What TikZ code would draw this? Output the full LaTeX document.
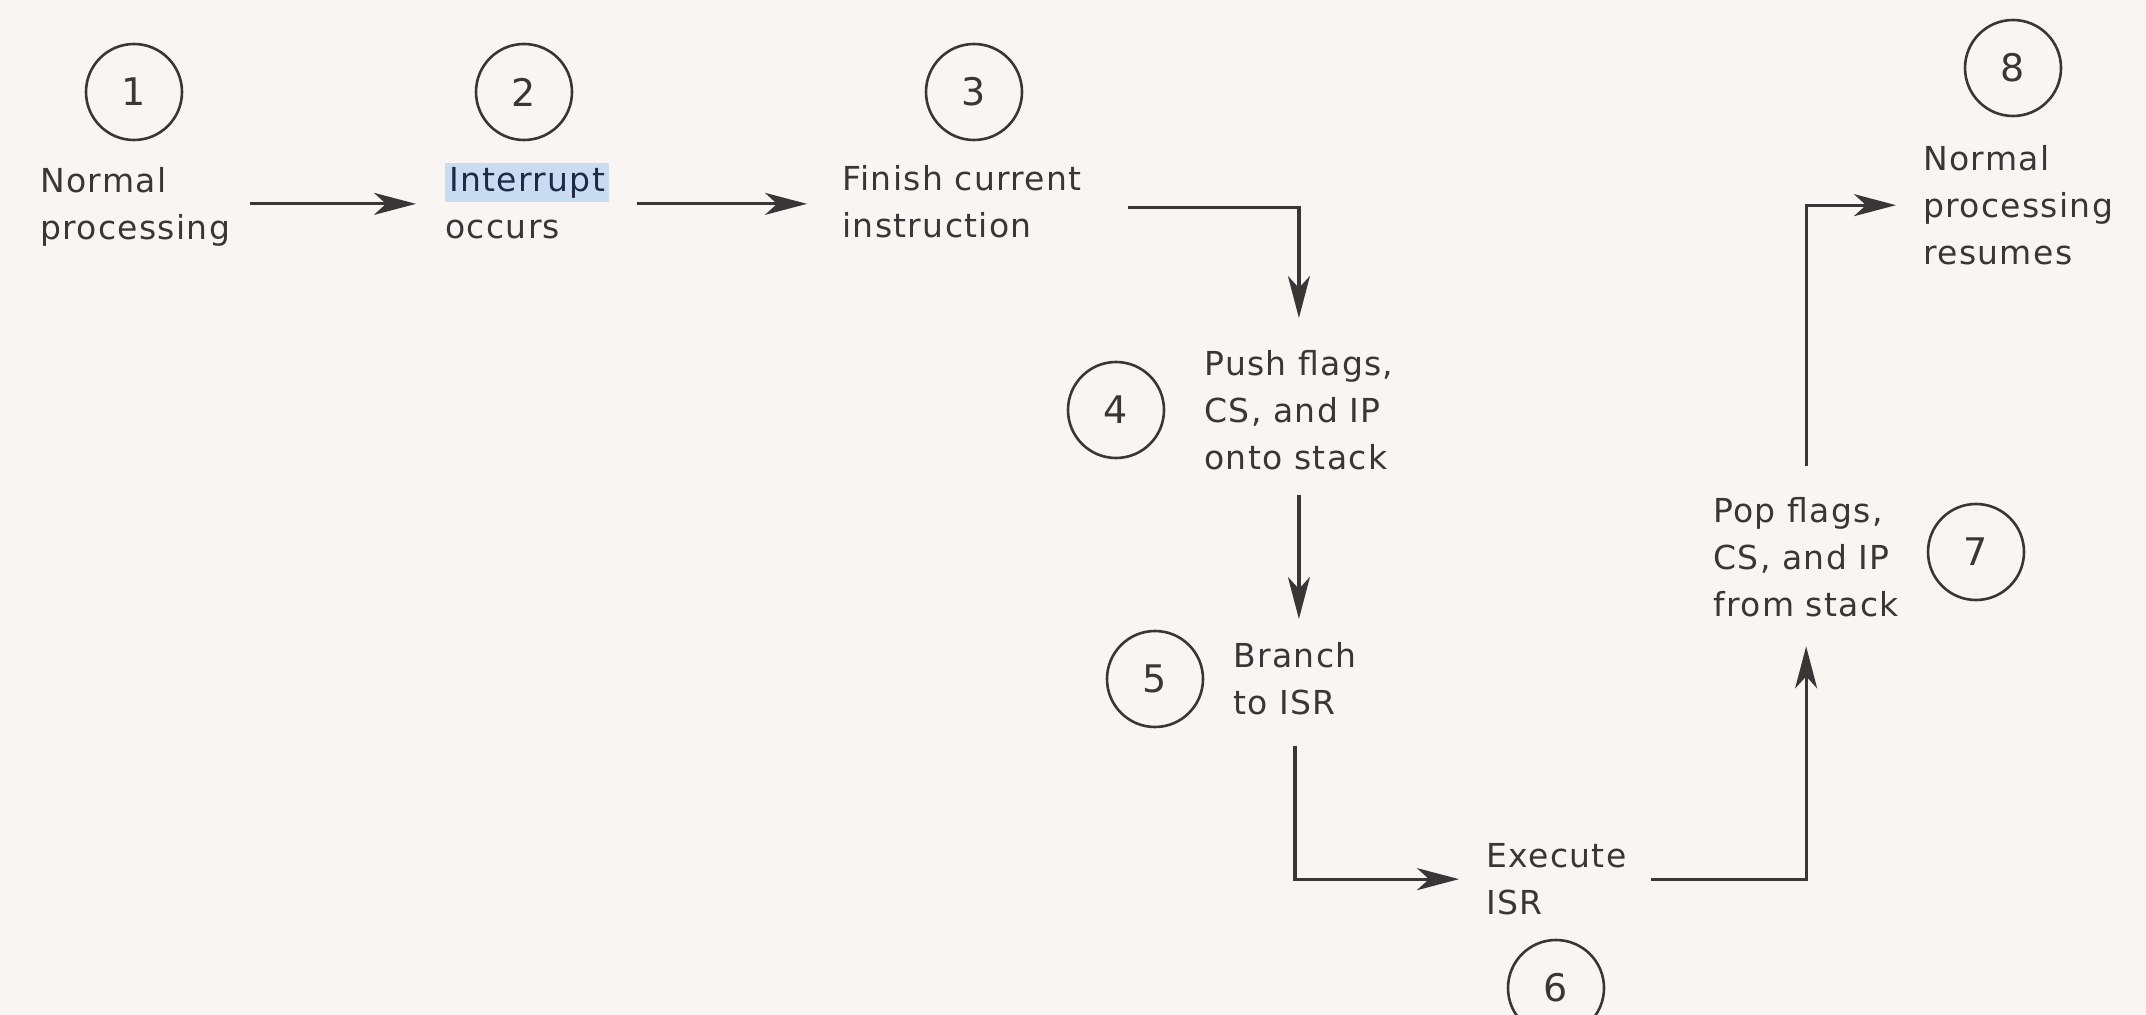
\documentclass[tikz,border=0pt]{standalone}
\usepackage{fontspec}
\setmainfont{DejaVu Sans}[LetterSpace=4]
\usetikzlibrary{arrows.meta}
\definecolor{ink}{HTML}{3A3536}
\definecolor{navy}{HTML}{1F2A44}
\definecolor{paper}{HTML}{F8F5F3}
\definecolor{hl}{HTML}{C9DCF2}
\begin{document}
\begin{tikzpicture}[x=0.5pt,y=-0.5pt,
  txtfont/.style={font=\fontsize{16.5}{23.5}\selectfont},
  num/.style={draw=ink, line width=1.3pt, circle, minimum size=48pt, inner sep=0pt, text=ink, font=\fontsize{19}{22}\selectfont},
  lbl/.style={anchor=north west, inner sep=0pt, align=left, text=ink, txtfont},
  arr/.style={draw=ink, line width=1.6pt, -{Stealth[length=21pt,width=11pt,inset=6pt]}}]
\fill[paper] (0,0) rectangle (2146,1015);
\useasboundingbox (0,0) rectangle (2146,1015);
% step numbers
\node[num] (n1) at (134,92) {1};
\node[num] (n2) at (524,92) {2};
\node[num] (n3) at (974,92) {3};
\node[num] (n4) at (1116,410) {4};
\node[num] (n5) at (1155,679) {5};
\node[num] (n6) at (1556,988) {6};
\node[num] (n7) at (1976,552) {7};
\node[num] (n8) at (2013,68) {8};
% labels
\node[lbl] (t1) at (40,167) {Normal\\processing};
\node[lbl] (t2) at (445,163) {{\setlength\fboxsep{2pt}\colorbox{hl}{\color{navy}Interrupt}}\\occurs};
\node[lbl] (t3) at (842,165) {Finish current\\instruction};
\node[lbl] (t4) at (1204,350) {Push flags,\\CS, and IP\\onto stack};
\node[lbl] (t5) at (1233,642) {Branch\\to ISR};
\node[lbl] (t6) at (1486,843) {Execute\\ISR};
\node[lbl] (t7) at (1713,497) {Pop flags,\\CS, and IP\\from stack};
\node[lbl] (t8) at (1923,145) {Normal\\processing\\resumes};
\coordinate (row) at ([yshift=1.5pt]t1.east);
% connectors
\draw[arr, shorten <=9.5pt, shorten >=14.5pt] (row) -- (row -| t2.west);
\draw[arr, shorten <=13.5pt, shorten >=17.5pt] (row -| t2.east) -- (row -| t3.west);
\draw[arr, shorten <=23pt, shorten >=16pt] ([yshift=-3pt]t3.east) -| (t4.north);
\draw[arr, shorten <=12.5pt, shorten >=11.5pt] (t4.south) -- (t4.south |- t5.north);
\draw[arr, shorten <=15.5pt, shorten >=13.5pt] (t5.south) |- (t6.west);
\draw[arr, shorten <=12pt, shorten >=14.5pt] (t6.east) -| (t7.south);
\draw[arr, shorten <=15.5pt, shorten >=13.5pt] (t7.north) |- (t8.west);
\end{tikzpicture}
\end{document}
